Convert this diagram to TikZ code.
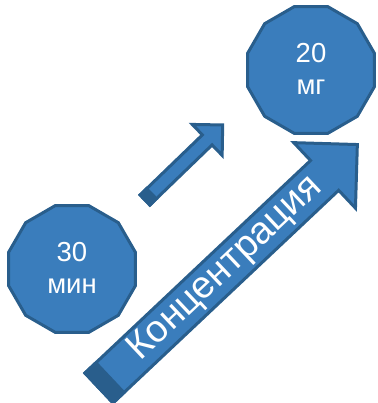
\documentclass[tikz,border=0pt]{standalone}
\usepackage{fontspec}
\setmainfont{Liberation Sans}
\usetikzlibrary{shapes.geometric}
\definecolor{bfill}{RGB}{58,125,188}
\definecolor{bline}{RGB}{41,94,140}
\begin{document}
\begin{tikzpicture}[x=1pt,y=1pt,
  poly/.style={regular polygon, regular polygon sides=12, minimum size=131pt, inner sep=0pt, fill=bfill, draw=bline, line width=3pt},
  lbl/.style={text=white, align=center, inner sep=0pt, font=\fontsize{27.5}{32}\selectfont},
  blockarrow/.style={fill=bfill, draw=bline, line width=3pt, line join=miter},
  endface/.style={fill=bline, draw=bline, line width=3pt, line join=miter},
  biglbl/.style={text=white, inner sep=0pt, font=\fontsize{38}{40}\selectfont}]
\useasboundingbox (0,0) rectangle (377,403);
% polygons
\node[poly] (c30) at (72,134) {};
\node[lbl, yshift=1pt] (t30) at (c30.center) {30\\мин};
\node[poly] (c20) at (311,333) {};
\node[lbl, yshift=1pt] (t20) at (c20.center) {20\\мг};
% small arrow
\begin{scope}[shift={(145,203)}, rotate=44]
  \coordinate (sa) at (0,0);
  \draw[blockarrow] (0,-7) -- (86.5,-7) -- (86.5,-21.5) -- (108,0) -- (86.5,21.5) -- (86.5,7) -- (0,7) -- cycle;
  \draw[endface] (0,-7) rectangle (9,7);
\end{scope}
% big arrow
\begin{scope}[shift={(99,15)}, rotate=43.3]
  \coordinate (ba) at (0,0);
  \draw[blockarrow] (0,-20.5) -- (310,-20.5) -- (310,-45) -- (355,0) -- (310,45) -- (310,20.5) -- (0,20.5) -- cycle;
  \draw[endface] (0,-20.5) rectangle (15,20.5);
  \node[biglbl, rotate=43.3] (conc) at (174,0) {Концентрация};
\end{scope}
\end{tikzpicture}
\end{document}
